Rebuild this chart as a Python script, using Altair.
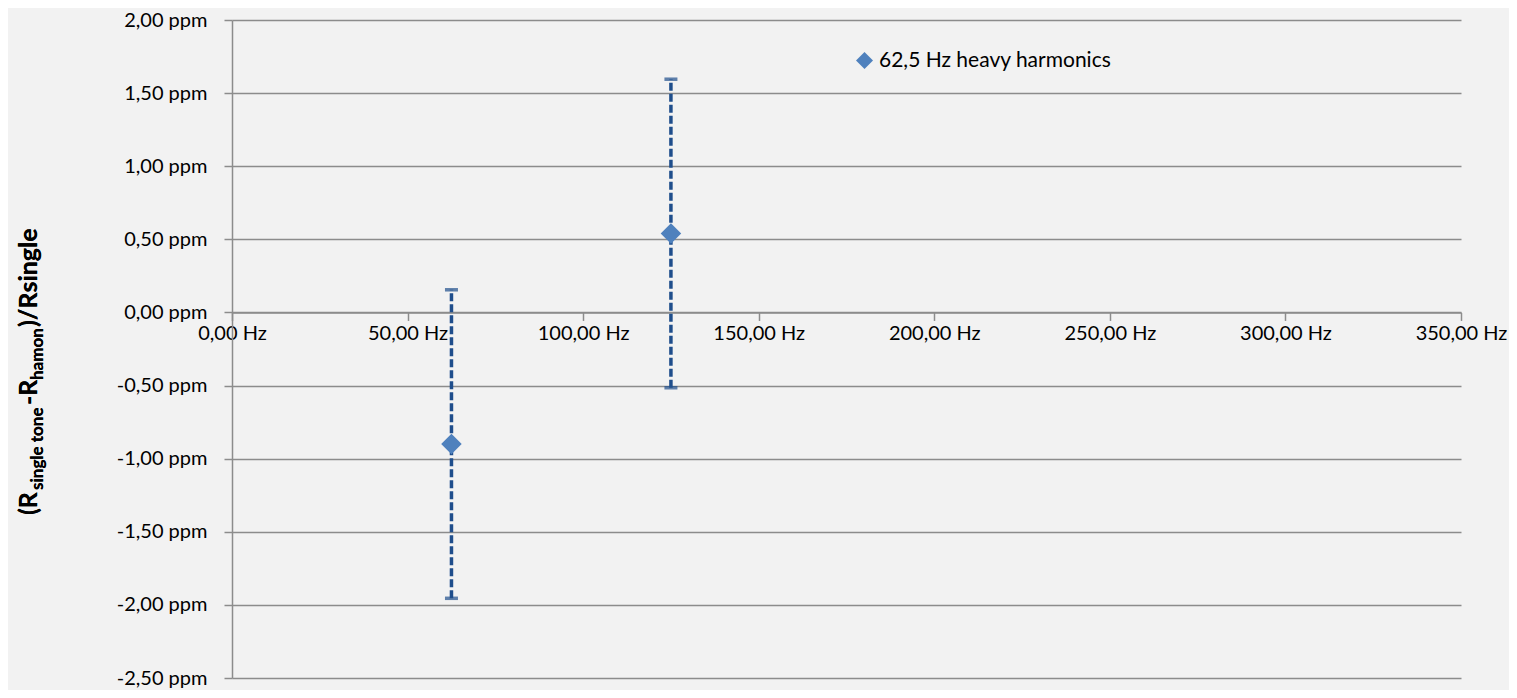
import altair as alt
import pandas as pd

# ---- data ----
freq_hz = [62.5, 125.0]
deviation_ppm = [-0.90, 0.54]
err_low_ppm = [-1.955, -0.515]
err_high_ppm = [0.155, 1.595]
series_name = ["62,5 Hz heavy harmonics", "62,5 Hz heavy harmonics"]

x_ticks = [0, 50, 100, 150, 200, 250, 300, 350]
y_ticks = [2.0, 1.5, 1.0, 0.5, 0.0, -0.5, -1.0, -1.5, -2.0, -2.5]

title_pieces = ["(R", "single tone", "-R", "hamon", ")/Rsingle"]
title_is_sub = [False, True, False, True, False]
title_start = [495, 470, 385, 360, 307]

df = pd.DataFrame({
    "freq": freq_hz,
    "dev": deviation_ppm,
    "lo": err_low_ppm,
    "hi": err_high_ppm,
    "series": series_name,
})

W, H = 1229, 658
x_dom = [0, 350]
y_dom = [-2.5, 2.0]
zero_px = H * (y_dom[1] - 0) / (y_dom[1] - y_dom[0])
x_axis_offset = zero_px - H

FONT = "Lato"
GRID = "#8c8c8c"
ERR = "#1f4e8c"
PT = "#4f81bd"

x_scale = alt.Scale(domain=x_dom, nice=False, zero=False)
y_scale = alt.Scale(domain=y_dom, nice=False, zero=False)

x_axis = alt.Axis(
    values=x_ticks, offset=x_axis_offset, grid=False, title=None,
    domainColor=GRID, domainWidth=1.5, tickColor=GRID, tickWidth=1.5, tickSize=8,
    labelFont=FONT, labelFontSize=20, labelColor="#000000", labelPadding=3,
    labelFlush=False, labelOverlap=False,
    labelExpr="replace(format(datum.value, '.2f'), '.', ',') + ' Hz'",
)
y_axis = alt.Axis(
    values=y_ticks, grid=True, gridColor=GRID, gridWidth=1.5, title=None,
    domainColor=GRID, domainWidth=1.5, tickColor=GRID, tickWidth=1.5, tickSize=8,
    labelFont=FONT, labelFontSize=20, labelColor="#000000", labelPadding=17,
    labelFlush=False, labelOverlap=False,
    labelExpr="replace(replace(format(datum.value, '.2f'), '.', ','), '\u2212', '-') + ' ppm'",
)

base = alt.Chart(df)

rules = base.mark_rule(strokeDash=[8, 3], strokeWidth=3.5, color=ERR).encode(
    x=alt.X("freq:Q", scale=x_scale, axis=x_axis),
    y=alt.Y("lo:Q", scale=y_scale, axis=y_axis),
    y2="hi:Q",
)
cap_lo = base.mark_tick(orient="horizontal", size=13, thickness=3.5, color=ERR).encode(
    x=alt.X("freq:Q", scale=x_scale), y=alt.Y("lo:Q", scale=y_scale)
)
cap_hi = base.mark_tick(orient="horizontal", size=13, thickness=3.5, color=ERR).encode(
    x=alt.X("freq:Q", scale=x_scale), y=alt.Y("hi:Q", scale=y_scale)
)
points = base.mark_point(shape="diamond", filled=True, size=420, opacity=1).encode(
    x=alt.X("freq:Q", scale=x_scale),
    y=alt.Y("dev:Q", scale=y_scale),
    color=alt.Color(
        "series:N",
        scale=alt.Scale(range=[PT]),
        legend=alt.Legend(
            orient="none", legendX=622, legendY=30, title=None,
            symbolType="diamond", symbolSize=290, symbolStrokeWidth=0,
            labelFont=FONT, labelFontSize=21, labelColor="#000000", labelOffset=4,
            labelLimit=0,
        ),
    ),
)

title_layers = []
for txt, sub, start in zip(title_pieces, title_is_sub, title_start):
    title_layers.append(
        alt.Chart(df).mark_text(
            text=txt, angle=270, align="left", baseline="alphabetic",
            font=FONT, fontWeight="bold", fontSize=17 if sub else 25, color="#000000",
        ).encode(x=alt.value(-189 if sub else -195), y=alt.value(start))
    )

chart = alt.layer(rules, cap_lo, cap_hi, points, *title_layers).properties(
    width=W, height=H,
    autosize=alt.AutoSizeParams(type="none"),
    padding={"left": 224, "top": 12, "right": 48, "bottom": 12},
).configure(background="#f2f2f2").configure_view(stroke=None)

chart.save("out.html", embed_options={"renderer": "svg", "actions": False})
